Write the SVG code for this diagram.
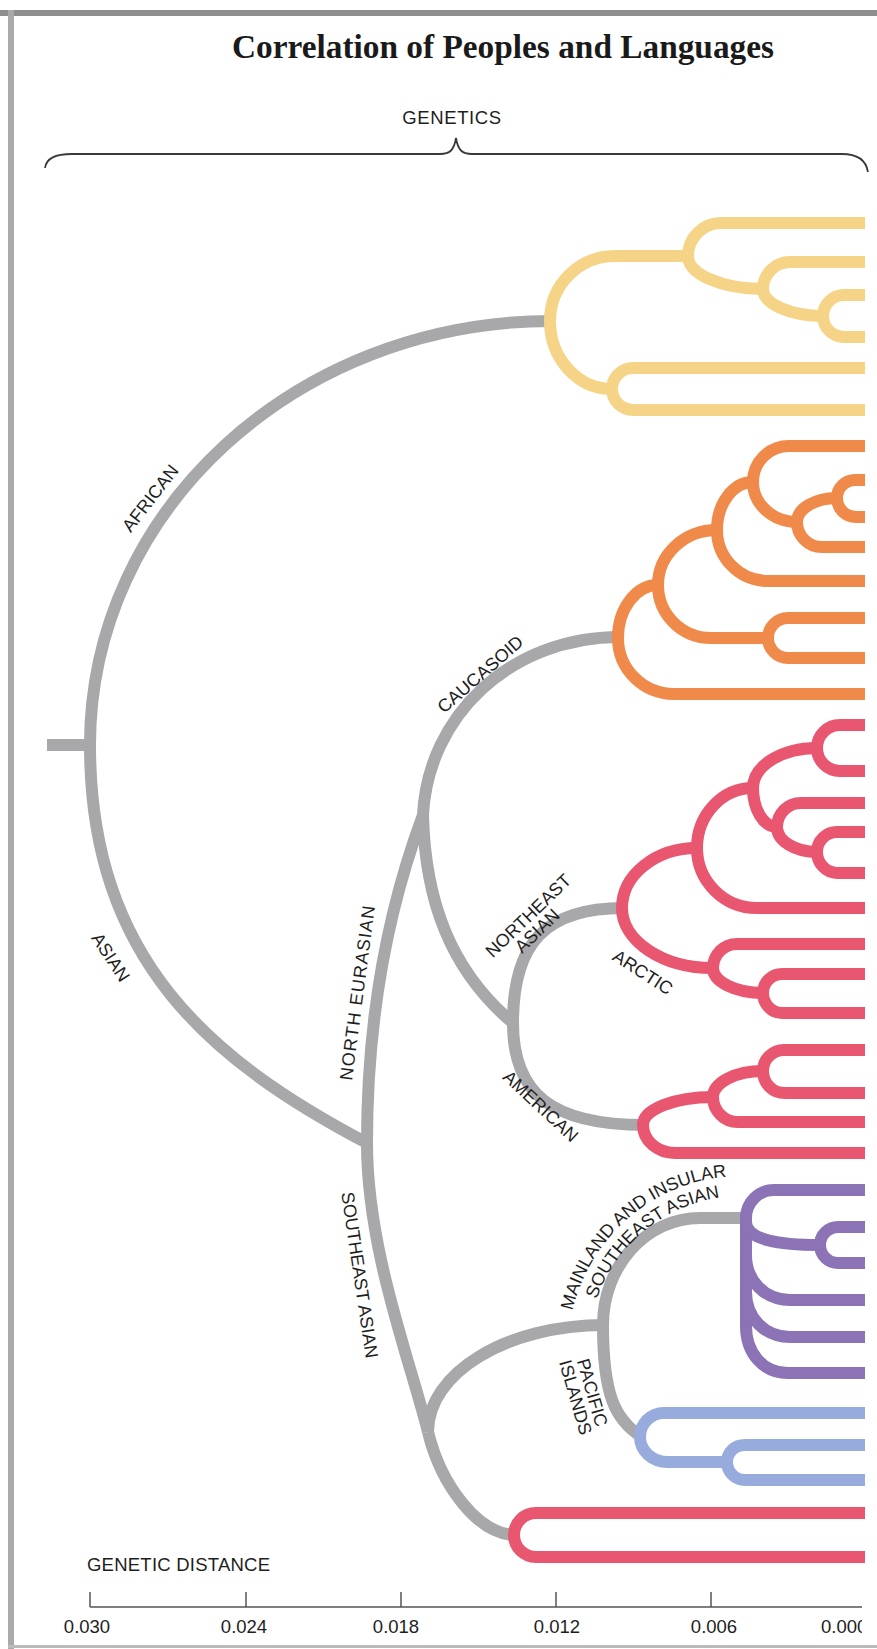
<svg xmlns="http://www.w3.org/2000/svg" width="877" height="1649" viewBox="0 0 877 1649">
<defs>
<clipPath id="clip"><rect x="0" y="0" width="865" height="1649"/></clipPath>
<clipPath id="clipAx"><rect x="0" y="0" width="862" height="1649"/></clipPath>
<path id="arcMain1" d="M568,1350 A174,174 0 0 1 772.2,1178.6"/>
<path id="arcMain2" d="M588,1350 A154,154 0 0 1 768.7,1198.3"/>
</defs>
<style>
.br{fill:none;stroke-width:12;stroke-linecap:butt;stroke-linejoin:round}
.g{stroke:#a8a8aa}
.y{stroke:#f6d487}
.o{stroke:#f08a4b}
.r{stroke:#e8566f}
.p{stroke:#8b73b5}
.b{stroke:#97abdd}
.lbl{font-family:"Liberation Sans",Arial,Helvetica,sans-serif;font-size:18px;fill:#1e1e1e}
.ax{font-family:"Liberation Sans",Arial,Helvetica,sans-serif;font-size:18.5px;fill:#1e1e1e}
.ttl{font-family:"Liberation Serif","Times New Roman",serif;font-size:33px;font-weight:bold;fill:#1a1a1a}
</style>
<rect width="877" height="1649" fill="#ffffff"/>
<g id="frame">
<rect x="0" y="10" width="877" height="6" fill="#8e8e8e"/>
<rect x="8" y="10" width="6" height="1639" fill="#aaaaaa"/>
<rect x="8" y="1645" width="869" height="3" fill="#bbbbbb"/>
</g>
<g id="title">
<text class="ttl" x="232" y="58" textLength="542" lengthAdjust="spacingAndGlyphs">Correlation of Peoples and Languages</text>
</g>
<g id="genetics-brace">
<text class="ax" x="452" y="124" text-anchor="middle" font-size="18" letter-spacing="0.6">GENETICS</text>
<path d="M45,168 C46,159 54,154 72,154 L440,154 C450,154 454,150 456,138 C458,150 462,154 472,154 L842,154 C858,154 866,160 868,172" fill="none" stroke="#3a3a3a" stroke-width="1.8"/>
</g>
<g id="tree" clip-path="url(#clip)">
<g id="connectors">
<path class="br g" d="M47,745 L92,745"/>
<path class="br g" d="M90,745 C90,510.8 295.9,321 552,321"/>
<path class="br g" d="M90,745 C90,960 210,1060 367,1143"/>
<path class="br g" d="M367,1143 C367,1000 395,890 423,815"/>
<path class="br g" d="M423,815 C428,716 510,637 620,637"/>
<path class="br g" d="M423,815 C425,900 450,970 513,1023"/>
<path class="br g" d="M513,1023 C513,942.5 545.7,908 624,908"/>
<path class="br g" d="M513,1023 C513,1094 552,1125 645,1125"/>
<path class="br g" d="M367,1143 C367,1250 410,1360 428,1432"/>
<path class="br g" d="M428,1432 C428,1372.9 506.3,1325 605,1325"/>
<path class="br g" d="M428,1432 C441,1485 478,1535 516,1535"/>
<path class="br g" d="M603,1325 C603,1265.9 646.4,1218 700,1218 L748,1218"/>
<path class="br g" d="M603,1325 C603,1395 615,1420 642,1437"/>
</g>
<g id="african-yellow">
<path class="br y" d="M550,321 C550,285.1 579.1,256 615,256 L688,256"/>
<path class="br y" d="M550,321 C550,358.6 577.8,389 612,389"/>
<path class="br y" d="M688,256 C688,237.8 702.8,223 721,223 L865,223"/>
<path class="br y" d="M688,256 C688,274.2 721.6,289 763,289"/>
<path class="br y" d="M763,289 C763,274.1 775.1,262 790,262 L865,262"/>
<path class="br y" d="M763,289 C763,303.9 789.9,316 823,316"/>
<path class="br y" d="M823,316 C823,304.4 832.4,295 844,295 L865,295"/>
<path class="br y" d="M823,316 C823,327.6 832.4,337 844,337 L865,337"/>
<path class="br y" d="M612,389 C612,377.4 621.4,368 633,368 L865,368"/>
<path class="br y" d="M612,389 C612,400.6 621.4,410 633,410 L865,410"/>
</g>
<g id="caucasoid-orange">
<path class="br o" d="M618,638 C618,608.7 635.9,585 658,585"/>
<path class="br o" d="M618,638 C618,668.9 643,694 674,694 L865,694"/>
<path class="br o" d="M658,585 C658,554.6 684.4,530 717,530"/>
<path class="br o" d="M658,585 C658,614.3 681.7,638 711,638 L768,638"/>
<path class="br o" d="M768,638 C768,627 777,618 788,618 L865,618"/>
<path class="br o" d="M768,638 C768,649 777,658 788,658 L865,658"/>
<path class="br o" d="M717,530 C717,503.5 733.1,482 753,482"/>
<path class="br o" d="M717,530 C717,558.2 739.8,581 768,581 L865,581"/>
<path class="br o" d="M753,482 C753,462.1 769.1,446 789,446 L865,446"/>
<path class="br o" d="M753,482 C753,504.1 772.7,522 797,522"/>
<path class="br o" d="M797,522 C797,508.7 814.9,498 837,498"/>
<path class="br o" d="M797,522 C797,535.8 808.2,547 822,547 L865,547"/>
<path class="br o" d="M837,498 C837,488.1 845.1,480 855,480 L865,480"/>
<path class="br o" d="M837,498 C837,508.5 845.5,517 856,517 L865,517"/>
</g>
<g id="arctic-red">
<path class="br r" d="M622,908 C622,874.9 655.6,848 697,848"/>
<path class="br r" d="M622,908 C622,941.1 662.7,968 713,968"/>
<path class="br r" d="M697,848 C697,814.9 722.1,788 753,788"/>
<path class="br r" d="M697,848 C697,881.1 723.9,908 757,908 L865,908"/>
<path class="br r" d="M753,788 C753,765.9 781.7,748 817,748"/>
<path class="br r" d="M753,788 C753,809.5 763.7,827 777,827"/>
<path class="br r" d="M817,748 C817,735.3 827.3,725 840,725 L865,725"/>
<path class="br r" d="M817,748 C817,760.7 827.3,771 840,771 L865,771"/>
<path class="br r" d="M777,827 C777,813.7 787.7,803 801,803 L865,803"/>
<path class="br r" d="M777,827 C777,840.8 794.9,852 817,852"/>
<path class="br r" d="M817,852 C817,840.7 826.2,832 837,832 L865,832"/>
<path class="br r" d="M817,852 C817,863.3 826.2,873 837,873 L865,873"/>
<path class="br r" d="M713,968 C713,954.7 723.7,944 737,944 L865,944"/>
<path class="br r" d="M713,968 C713,981.8 735.4,993 763,993"/>
<path class="br r" d="M763,993 C763,982.2 771.7,974 782,974 L865,974"/>
<path class="br r" d="M763,993 C763,1003.8 771.7,1013 782,1013 L865,1013"/>
</g>
<g id="american-red">
<path class="br r" d="M643,1125 C643,1109.5 674.3,1097 713,1097"/>
<path class="br r" d="M643,1125 C643,1140.5 657.3,1153 675,1153 L865,1153"/>
<path class="br r" d="M713,1097 C713,1082.6 735.4,1071 763,1071"/>
<path class="br r" d="M713,1097 C713,1110.8 724.2,1122 738,1122 L865,1122"/>
<path class="br r" d="M763,1071 C763,1059.1 772.6,1050 784,1050 L865,1050"/>
<path class="br r" d="M763,1071 C763,1083.4 772.6,1093 785,1093 L865,1093"/>
</g>
<g id="mainland-purple">
<path class="br p" d="M746,1218 C746,1202.5 758.5,1190 774,1190 L865,1190"/>
<path class="br p" d="M746,1214 L746,1328"/>
<path class="br p" d="M746,1222 C746,1240 780,1245 820,1245"/>
<path class="br p" d="M820,1245 C820,1235.1 828.1,1227 838,1227 L865,1227"/>
<path class="br p" d="M820,1245 C820,1254.9 828.1,1263 838,1263 L865,1263"/>
<path class="br p" d="M746,1255 C746,1281 765,1300 790,1300 L865,1300"/>
<path class="br p" d="M746,1292 C746,1318 765,1337 790,1337 L865,1337"/>
<path class="br p" d="M746,1326 C746,1353 763,1373 788,1373 L865,1373"/>
</g>
<g id="pacific-blue">
<path class="br b" d="M640,1437 C640,1423.7 650.7,1413 664,1413 L865,1413"/>
<path class="br b" d="M640,1437 C640,1450.8 652.3,1462 668,1462 L727,1462"/>
<path class="br b" d="M727,1462 C727,1452.3 734.8,1445 745,1445 L865,1445"/>
<path class="br b" d="M727,1462 C727,1471.7 734.8,1480 745,1480 L865,1480"/>
</g>
<g id="southeast-red">
<path class="br r" d="M514,1535 C514,1522.8 523.8,1513 536,1513 L865,1513"/>
<path class="br r" d="M514,1535 C514,1547.2 523.8,1557 536,1557 L865,1557"/>
</g>
</g>
<g id="labels">
<g transform="translate(150,498) rotate(-52)"><text class="lbl" x="0" y="6.5" text-anchor="middle">AFRICAN</text></g>
<g transform="translate(111,957) rotate(57)"><text class="lbl" x="0" y="6.5" text-anchor="middle">ASIAN</text></g>
<g transform="translate(357,993) rotate(-82.5)"><text class="lbl" x="0" y="6.5" text-anchor="middle" textLength="176">NORTH EURASIAN</text></g>
<g transform="translate(360,1275) rotate(81.5)"><text class="lbl" x="0" y="6.5" text-anchor="middle">SOUTHEAST ASIAN</text></g>
<g transform="translate(480,674) rotate(-41)"><text class="lbl" x="0" y="6.5" text-anchor="middle">CAUCASOID</text></g>
<g transform="translate(532.5,923) rotate(-44)"><text class="lbl" x="2" y="-2" text-anchor="middle">NORTHEAST</text><text class="lbl" x="-2" y="15" text-anchor="middle">ASIAN</text></g>
<g transform="translate(643,972) rotate(33)"><text class="lbl" x="0" y="6.5" text-anchor="middle">ARCTIC</text></g>
<g transform="translate(541,1106) rotate(43)"><text class="lbl" x="0" y="6.5" text-anchor="middle">AMERICAN</text></g>
<text class="lbl"><textPath href="#arcMain1" startOffset="148.8" text-anchor="middle">MAINLAND AND INSULAR</textPath></text>
<text class="lbl"><textPath href="#arcMain2" startOffset="135.7" text-anchor="middle">SOUTHEAST ASIAN</textPath></text>
<g transform="translate(584,1395) rotate(74)"><text class="lbl" x="0" y="-2.5" text-anchor="middle">PACIFIC</text><text class="lbl" x="0" y="15" text-anchor="middle">ISLANDS</text></g>
</g>
<g id="axis" clip-path="url(#clipAx)">
<text class="ax" x="87" y="1571" textLength="183">GENETIC DISTANCE</text>
<path d="M90,1607 L865,1607 M90,1592 L90,1607 M246,1592 L246,1607 M401,1592 L401,1607 M556,1592 L556,1607 M711,1592 L711,1607" fill="none" stroke="#555" stroke-width="1.5"/>
<text class="ax" x="87" y="1633" text-anchor="middle">0.030</text>
<text class="ax" x="244" y="1633" text-anchor="middle">0.024</text>
<text class="ax" x="396" y="1633" text-anchor="middle">0.018</text>
<text class="ax" x="557" y="1633" text-anchor="middle">0.012</text>
<text class="ax" x="714" y="1633" text-anchor="middle">0.006</text>
<text class="ax" x="821" y="1633">0.000</text>
</g>
</svg>
